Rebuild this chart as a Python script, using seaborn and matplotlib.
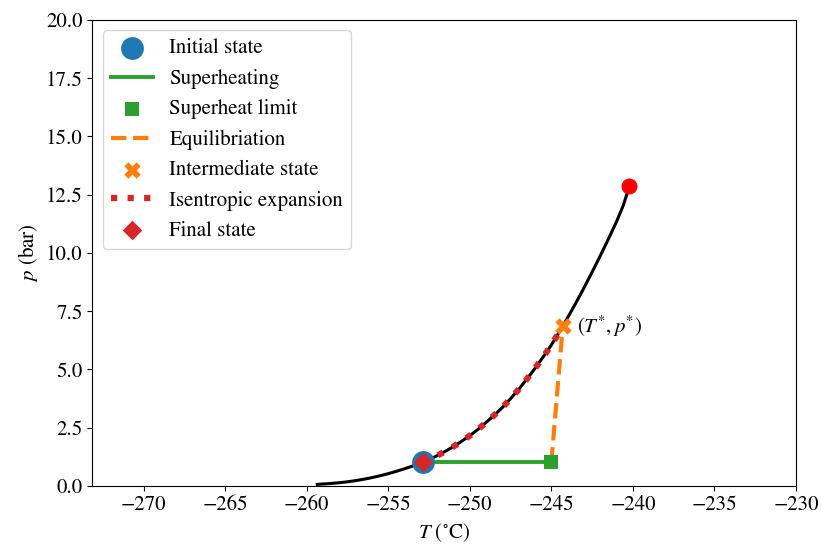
import numpy as np
import pandas as pd
from matplotlib import pyplot as plt
import seaborn as sns

# saturation curve (para-hydrogen)
sat_T = [-259.35, -258.5, -258.0, -257.5, -257.0, -256.5, -256.0, -255.5, -255.0,
         -254.5, -254.0, -253.5, -252.88, -252.5, -252.0, -251.5, -251.0, -250.5,
         -250.0, -249.5, -249.0, -248.5, -248.0, -247.5, -247.0, -246.5, -246.0,
         -245.5, -245.0, -244.65, -244.3, -243.5, -243.0, -242.5, -242.0, -241.5,
         -241.0, -240.6, -240.21]
sat_p = [0.07, 0.11, 0.14, 0.18, 0.23, 0.29, 0.36, 0.44, 0.53,
         0.63, 0.74, 0.86, 1.01, 1.13, 1.30, 1.49, 1.69, 1.92,
         2.16, 2.43, 2.73, 3.04, 3.37, 3.75, 4.15, 4.59, 5.05,
         5.54, 6.05, 6.45, 6.85, 7.85, 8.50, 9.18, 9.88, 10.60,
         11.35, 12.02, 12.86]

# process states
initial = (-252.88, 1.01)
limit = (-245.0, 1.01)
intermediate = (-244.3, 6.85)
final = (-252.88, 1.01)
critical = (-240.21, 12.86)

plt.rcParams['font.family'] = ['STIXGeneral', 'DejaVu Serif']
plt.rcParams['mathtext.fontset'] = 'stix'
plt.rcParams['font.size'] = 15

fig = plt.figure(figsize=(8.21, 5.46), dpi=100)
ax = fig.add_axes([0.1124, 0.1099, 0.8571, 0.8535])

sat = pd.DataFrame({'T': sat_T, 'p': sat_p})
sns.lineplot(data=sat, x='T', y='p', color='black', lw=2.2, ax=ax)

# isentropic expansion runs along the curve from (T*, p*) back to final state
exp_part = sat[(sat['T'] >= final[0]) & (sat['T'] <= intermediate[0])]

sns.scatterplot(x=[initial[0]], y=[initial[1]], marker='o', s=270, color='tab:blue',
                linewidth=0, label='Initial state', ax=ax, zorder=3)
sns.lineplot(x=[initial[0], limit[0]], y=[initial[1], limit[1]], color='tab:green',
             lw=2.8, label='Superheating', ax=ax)
sns.scatterplot(x=[limit[0]], y=[limit[1]], marker='s', s=110, color='tab:green',
                linewidth=0, label='Superheat limit', ax=ax, zorder=3)
sns.lineplot(x=[limit[0], intermediate[0]], y=[limit[1], intermediate[1]],
             color='tab:orange', lw=3, ls='--', label='Equilibriation', ax=ax)
sns.scatterplot(x=[intermediate[0]], y=[intermediate[1]], marker='X', s=140,
                color='tab:orange', linewidth=0, label='Intermediate state', ax=ax, zorder=3)
sns.lineplot(data=exp_part, x='T', y='p', color='tab:red', lw=4.5, ls=':',
             label='Isentropic expansion', ax=ax)
sns.scatterplot(x=[final[0]], y=[final[1]], marker='D', s=100, color='tab:red',
                linewidth=0, label='Final state', ax=ax, zorder=4)
ax.plot(critical[0], critical[1], 'o', color='red', ms=10.5, zorder=3)

ax.annotate(r'$(T^{*}, p^{*})$', xy=intermediate, xytext=(10, 0),
            textcoords='offset points', va='center', ha='left')

ax.set_xlim(-273.15, -230)
ax.set_ylim(0, 20)
ax.set_xticks(np.arange(-270, -229, 5))
ax.set_yticks(np.arange(0, 20.1, 2.5))
ax.set_xlabel(r'$T$ ($^{\circ}$C)')
ax.set_ylabel(r'$p$ (bar)')
ax.legend(loc='upper left')

fig.savefig('out.png', dpi=100)
